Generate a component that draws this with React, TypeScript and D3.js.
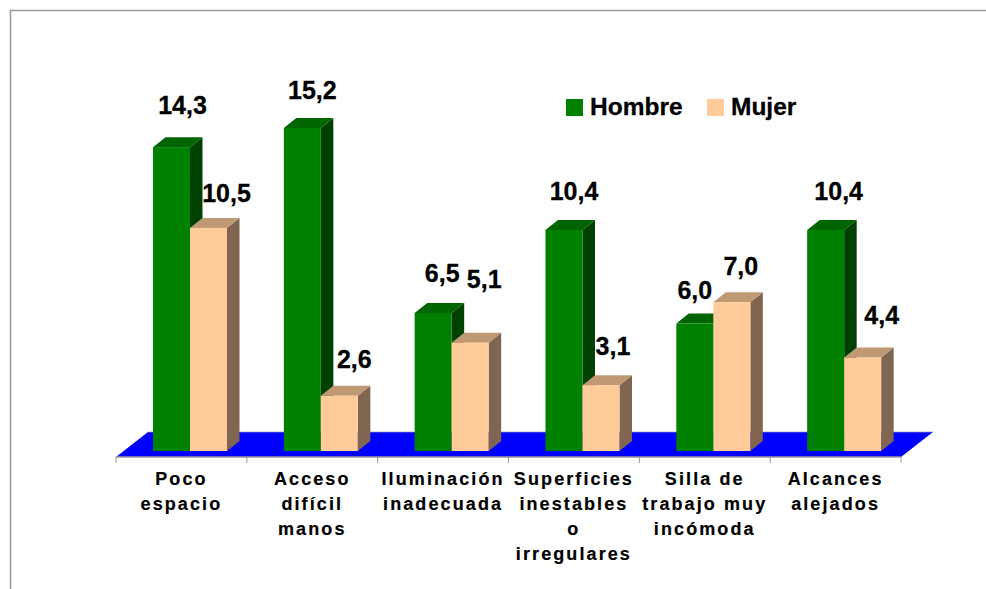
import React from 'react';
import * as d3 from 'd3';

const categories = ['Poco espacio', 'Acceso difícil manos', 'Iluminación inadecuada', 'Superficies inestables o irregulares', 'Silla de trabajo muy incómoda', 'Alcances alejados'];
const categoryLines = [
  ['Poco', 'espacio'],
  ['Acceso', 'difícil', 'manos'],
  ['Iluminación', 'inadecuada'],
  ['Superficies', 'inestables', 'o', 'irregulares'],
  ['Silla de', 'trabajo muy', 'incómoda'],
  ['Alcances', 'alejados'],
];
const hombre = [14.3, 15.2, 6.5, 10.4, 6.0, 10.4];
const mujer = [10.5, 2.6, 5.1, 3.1, 7.0, 4.4];

// labels were hand placed in the original, so nudge them per bar
const hombreNudge = [[11, -33], [10, -29], [9, -31], [10, -30], [0, -25], [13, -30]];
const mujerNudge = [[18, -26], [15, -28], [14, -55], [12, -30], [9, -27], [19, -34]];

const width = 986;
const height = 589;
const FONT = '"Liberation Sans", Arial, sans-serif';
const GREEN = { front: '#008000', top: '#006400', side: '#004000' };
const PEACH = { front: '#FFCC99', top: '#BF9973', side: '#806650' };
const DEPTH_X = 12.5;
const DEPTH_Y = 10;
const FLOOR_X = 32;
const FLOOR_Y = 25;

const fmt = (v: number) => v.toFixed(1).replace('.', ',');

function Bar({ x, y, w, base, colors }: { x: number; y: number; w: number; base: number; colors: typeof GREEN }) {
  const top = d3.path();
  top.moveTo(x, y);
  top.lineTo(x + DEPTH_X, y - DEPTH_Y);
  top.lineTo(x + w + DEPTH_X, y - DEPTH_Y);
  top.lineTo(x + w, y);
  top.closePath();
  const side = d3.path();
  side.moveTo(x + w, y);
  side.lineTo(x + w + DEPTH_X, y - DEPTH_Y);
  side.lineTo(x + w + DEPTH_X, base - DEPTH_Y);
  side.lineTo(x + w, base);
  side.closePath();
  return (
    <g>
      <path d={side.toString()} fill={colors.side} />
      <path d={top.toString()} fill={colors.top} />
      <rect x={x} y={y} width={w} height={base - y} fill={colors.front} />
    </g>
  );
}

export default function App() {
  const left = 116;
  const right = 901;
  const axisY = 457;
  const base = 451;

  const x = d3.scaleBand<string>().domain(categories).range([left, right]);
  const y = d3.scaleLinear().domain([0, 15.2]).range([base, 128]);
  const barW = 37;
  const inset = 37;

  const floor = d3.line()([
    [left, axisY],
    [right, axisY],
    [right + FLOOR_X, axisY - FLOOR_Y],
    [left + FLOOR_X, axisY - FLOOR_Y],
  ]) + 'Z';

  const ticks = d3.range(categories.length + 1).map(i => left + i * x.step());

  return (
    <svg width={width} height={height} style={{ position: 'fixed', left: 0, top: 0, display: 'block', background: '#fff' }}>
      <path d={`M10.5,${height}V10.5H${width}`} fill="none" stroke="#999" strokeWidth={1.5} />

      <path d={floor} fill="#0000FF" />
      <line x1={left + FLOOR_X} x2={right + FLOOR_X} y1={axisY - FLOOR_Y} y2={axisY - FLOOR_Y} stroke="#999" strokeWidth={0.7} />
      <line x1={left} x2={right} y1={axisY} y2={axisY} stroke="#999" strokeWidth={1.5} />
      {ticks.map(t => (
        <line key={t} x1={t} x2={t} y1={axisY} y2={axisY + 6} stroke="#999" strokeWidth={1} />
      ))}

      {categories.map((c, i) => {
        const bx = (x(c) as number) + inset;
        return (
          <g key={c}>
            <Bar x={bx} y={y(hombre[i])} w={barW} base={base} colors={GREEN} />
            <Bar x={bx + barW} y={y(mujer[i])} w={barW} base={base} colors={PEACH} />
          </g>
        );
      })}

      <g fontFamily={FONT} fontWeight="bold" fontSize={25} fill="#000" stroke="#000" strokeWidth={0.3} textAnchor="middle">
        {categories.map((c, i) => {
          const bx = (x(c) as number) + inset;
          return (
            <g key={c}>
              <text x={bx + barW / 2 + hombreNudge[i][0]} y={y(hombre[i]) + hombreNudge[i][1]}>{fmt(hombre[i])}</text>
              <text x={bx + barW * 1.5 + mujerNudge[i][0]} y={y(mujer[i]) + mujerNudge[i][1]}>{fmt(mujer[i])}</text>
            </g>
          );
        })}
      </g>

      <g fontFamily={FONT} fontWeight="bold" fontSize={18} fill="#000" stroke="#000" strokeWidth={0.2} textAnchor="middle" letterSpacing={2.1}>
        {categories.map((c, i) => (
          <text key={c} x={(x(c) as number) + x.bandwidth() / 2}>
            {categoryLines[i].map((line, j) => (
              <tspan key={line} x={(x(c) as number) + x.bandwidth() / 2} y={485 + j * 25}>{line}</tspan>
            ))}
          </text>
        ))}
      </g>

      <g fontFamily={FONT} fontWeight="bold" fontSize={24.5} fill="#000" stroke="#000" strokeWidth={0.3}>
        <rect x={566} y={99} width={17} height={17} fill={GREEN.front} stroke="none" />
        <text x={590} y={115}>Hombre</text>
        <rect x={707} y={99} width={17} height={17} fill={PEACH.front} stroke="none" />
        <text x={731} y={115}>Mujer</text>
      </g>
    </svg>
  );
}
